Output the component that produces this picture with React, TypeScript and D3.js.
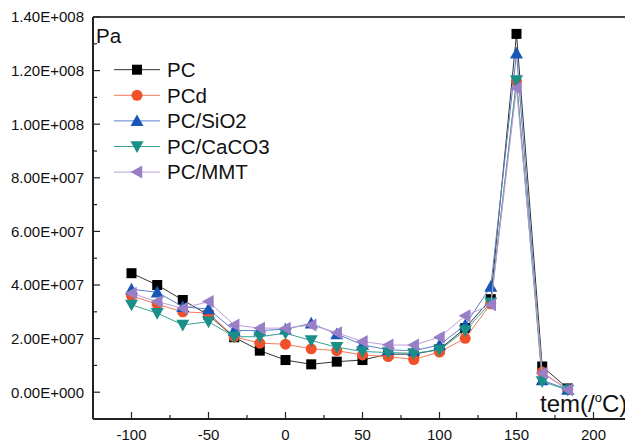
import React from "react";
import * as d3 from "d3";

const temps = [-100, -83.3, -66.7, -50, -33.3, -16.7, 0, 16.7, 33.3, 50, 66.7, 83.3, 100, 116.7, 133.3, 150, 166.7, 183.3];

const PC = [4.44e7, 4.0e7, 3.44e7, 2.88e7, 2.05e7, 1.55e7, 1.2e7, 1.04e7, 1.14e7, 1.2e7, 1.42e7, 1.42e7, 1.6e7, 2.39e7, 3.47e7, 13.37e7, 0.96e7, 0.14e7];
const PCd = [3.6e7, 3.28e7, 3.0e7, 2.95e7, 2.07e7, 1.83e7, 1.79e7, 1.62e7, 1.55e7, 1.39e7, 1.33e7, 1.22e7, 1.5e7, 2.01e7, 3.3e7, 11.6e7, 0.75e7, 0.1e7];
const PCSiO2 = [3.84e7, 3.73e7, 3.19e7, 3.1e7, 2.3e7, 2.3e7, 2.35e7, 2.57e7, 2.17e7, 1.77e7, 1.58e7, 1.55e7, 1.76e7, 2.51e7, 3.94e7, 12.65e7, 0.45e7, 0.1e7];
const PCCaCO3 = [3.26e7, 2.95e7, 2.51e7, 2.63e7, 2.07e7, 2.07e7, 2.2e7, 1.93e7, 1.68e7, 1.52e7, 1.48e7, 1.45e7, 1.58e7, 2.3e7, 3.34e7, 11.63e7, 0.4e7, 0.08e7];
const PCMMT = [3.69e7, 3.38e7, 3.13e7, 3.38e7, 2.51e7, 2.39e7, 2.39e7, 2.51e7, 2.22e7, 1.89e7, 1.76e7, 1.76e7, 2.05e7, 2.85e7, 3.26e7, 11.34e7, 0.71e7, 0.09e7];

const seriesNames = ["PC", "PCd", "PC/SiO2", "PC/CaCO3", "PC/MMT"];
const seriesValues = [PC, PCd, PCSiO2, PCCaCO3, PCMMT];

const xTickValues = [-100, -50, 0, 50, 100, 150, 200];
const xTickLabels = ["-100", "-50", "0", "50", "100", "150", "200"];
const yTickValues = [0, 2e7, 4e7, 6e7, 8e7, 1e8, 1.2e8, 1.4e8];
const yTickLabels = ["0.00E+000", "2.00E+007", "4.00E+007", "6.00E+007", "8.00E+007", "1.00E+008", "1.20E+008", "1.40E+008"];

const markerColors = ["#000000", "#f0502a", "#1857b8", "#1a8f88", "#9a7ec6"];
const lineColors = ["#333333", "#f07a5a", "#5a80c8", "#3aa098", "#b9a0d8"];
const markerTypes = ["square", "circle", "triUp", "triDown", "triLeft"];

const FONT = "'Liberation Sans', Arial, sans-serif";

function Marker({ type, x, y, color }: { type: string; x: number; y: number; color: string }) {
  if (type === "square") return <rect x={x - 5} y={y - 5} width={10} height={10} fill={color} />;
  if (type === "circle") return <circle cx={x} cy={y} r={5.5} fill={color} />;
  const s = 6.5;
  let pts = "";
  if (type === "triUp") pts = `${x},${y - s} ${x - s},${y + s * 0.8} ${x + s},${y + s * 0.8}`;
  if (type === "triDown") pts = `${x},${y + s} ${x - s},${y - s * 0.8} ${x + s},${y - s * 0.8}`;
  if (type === "triLeft") pts = `${x - s},${y} ${x + s * 0.8},${y - s} ${x + s * 0.8},${y + s}`;
  return <polygon points={pts} fill={color} />;
}

export default function App() {
  const W = 625, H = 442;
  const L = 93, T = 17, B = 419;
  const x = d3.scaleLinear().domain([-125, 225]).range([L, 632]);
  const y = d3.scaleLinear().domain([-1e7, 1.4e8]).range([B, T]);
  const line = d3.line<number>().x((_, i) => x(temps[i])).y((d) => y(d));

  const xMinor = d3.range(-125, 226, 25);
  const yMinor = d3.range(0, 1.41e8, 1e7);

  return (
    <svg width={W} height={H} style={{ position: "absolute", left: 0, top: 0, background: "#fff" }} fontFamily={FONT}>
      {/* frame */}
      <line x1={L} x2={W} y1={T} y2={T} stroke="#444" strokeWidth={2} />
      <line x1={L} x2={L} y1={T} y2={B} stroke="#222" strokeWidth={2} />
      <line x1={L} x2={W} y1={B} y2={B} stroke="#222" strokeWidth={2} />

      {/* x ticks */}
      {xMinor.map((v) => {
        const major = xTickValues.includes(v);
        return <line key={"xt" + v} x1={x(v)} x2={x(v)} y1={B} y2={B - (major ? 7 : 4)} stroke="#222" strokeWidth={1.2} />;
      })}
      {xTickValues.map((v, i) => (
        <text key={"xl" + v} x={x(v)} y={440} textAnchor="middle" fontSize={15} fill="#111">{xTickLabels[i]}</text>
      ))}

      {/* y ticks */}
      {yMinor.map((v) => {
        const major = yTickValues.some((t) => Math.abs(t - v) < 1);
        return <line key={"yt" + v} x1={L} x2={L + (major ? 7 : 4)} y1={y(v)} y2={y(v)} stroke="#222" strokeWidth={1.2} />;
      })}
      {yTickValues.map((v, i) => (
        <text key={"yl" + v} x={84} y={y(v) + 5.3} textAnchor="end" fontSize={15} fill="#111">{yTickLabels[i]}</text>
      ))}

      {/* series */}
      {seriesValues.map((vals, si) => (
        <g key={"s" + si}>
          <path d={line(vals) || ""} fill="none" stroke={lineColors[si]} strokeWidth={1} />
          {vals.map((v, i) => (
            <Marker key={i} type={markerTypes[si]} x={x(temps[i])} y={y(v)} color={markerColors[si]} />
          ))}
        </g>
      ))}

      {/* unit label */}
      <text x={96} y={43} fontSize={20.5} fill="#111">Pa</text>

      {/* legend */}
      {seriesNames.map((name, i) => {
        const ly = 69.7 + i * 25.6;
        return (
          <g key={"lg" + i}>
            <line x1={114} x2={160} y1={ly} y2={ly} stroke={lineColors[i]} strokeWidth={1} />
            <Marker type={markerTypes[i]} x={137} y={ly} color={markerColors[i]} />
            <text x={167} y={ly + 7.2} fontSize={20.5} fill="#111">{name}</text>
          </g>
        );
      })}

      {/* axis title */}
      <text x={540} y={412} fontSize={24} fill="#111">
        tem(/<tspan dy={-10} fontSize={13}>o</tspan><tspan dy={10}>C)</tspan>
      </text>
    </svg>
  );
}
